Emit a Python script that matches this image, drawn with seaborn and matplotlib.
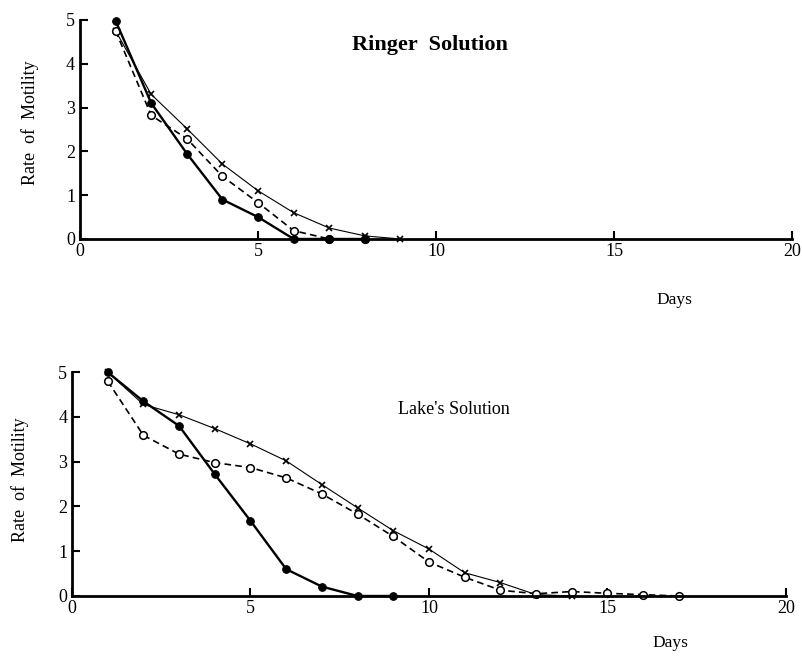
import numpy as np
import pandas as pd
import seaborn as sns
import matplotlib.pyplot as plt

# ---- data ----
ringer_days_filled = [1, 2, 3, 4, 5, 6, 7, 8]
ringer_filled = [4.98, 3.1, 1.95, 0.9, 0.5, 0.0, 0.0, 0.0]
ringer_days_open = [1, 2, 3, 4, 5, 6, 7, 8]
ringer_open = [4.75, 2.82, 2.29, 1.43, 0.83, 0.19, 0.0, 0.0]
ringer_days_cross = [1, 2, 3, 4, 5, 6, 7, 8, 9]
ringer_cross = [4.75, 3.3, 2.52, 1.71, 1.1, 0.6, 0.25, 0.07, 0.0]

lake_days_filled = [1, 2, 3, 4, 5, 6, 7, 8, 9]
lake_filled = [5.0, 4.35, 3.8, 2.72, 1.68, 0.6, 0.21, 0.0, 0.0]
lake_days_open = [1, 2, 3, 4, 5, 6, 7, 8, 9, 10, 11, 12, 13, 14, 15, 16, 17]
lake_open = [4.8, 3.59, 3.17, 2.98, 2.87, 2.64, 2.28, 1.83, 1.33, 0.76, 0.42, 0.13, 0.05, 0.1, 0.06, 0.03, 0.0]
lake_days_cross = [1, 2, 3, 4, 5, 6, 7, 8, 9, 10, 11, 12, 13, 14]
lake_cross = [5.0, 4.28, 4.05, 3.74, 3.4, 3.02, 2.49, 1.97, 1.46, 1.05, 0.52, 0.3, 0.03, 0.0]

x_ticks = [0, 5, 10, 15, 20]
y_ticks = [0, 1, 2, 3, 4, 5]

sns.set_theme(style="ticks")
plt.rcParams["font.family"] = ["Liberation Serif", "DejaVu Serif"]
plt.rcParams["text.color"] = "black"

fig = plt.figure(figsize=(8.03, 6.62), dpi=100)
ax_top = fig.add_axes([0.0996, 0.639, 0.887, 0.331])
ax_bot = fig.add_axes([0.0897, 0.0997, 0.889, 0.338])


def draw_panel(ax, df_f, df_o, df_x):
    sns.lineplot(data=df_x, x="day", y="rate", ax=ax, color="black", linewidth=0.8,
                 marker="x", markersize=5, markeredgewidth=1.2, markeredgecolor="black")
    sns.lineplot(data=df_o, x="day", y="rate", ax=ax, color="black", linewidth=1.2,
                 marker="o", markersize=5.5, markerfacecolor="white",
                 markeredgecolor="black", markeredgewidth=1.1)
    ax.lines[-1].set_dashes([4, 2.5])
    sns.lineplot(data=df_f, x="day", y="rate", ax=ax, color="black", linewidth=1.7,
                 marker="o", markersize=5.5, markerfacecolor="black", markeredgecolor="black")
    ax.set_xlim(0, 20)
    ax.set_ylim(0, 5)
    ax.set_xticks(x_ticks)
    ax.set_yticks(y_ticks)
    ax.tick_params(direction="in", length=6, width=1.5, labelsize=13, colors="black")
    ax.tick_params(axis="x", pad=3)
    for s in ["top", "right"]:
        ax.spines[s].set_visible(False)
    for s in ["left", "bottom"]:
        ax.spines[s].set_linewidth(2)
        ax.spines[s].set_color("black")
    ax.set_ylabel("")
    ax.set_xlabel("")
    ax.set_facecolor("white")
    for line in ax.lines:
        line.set_clip_on(False)


def frame(days, vals):
    return pd.DataFrame({"day": days, "rate": vals})


draw_panel(ax_top, frame(ringer_days_filled, ringer_filled),
           frame(ringer_days_open, ringer_open), frame(ringer_days_cross, ringer_cross))
draw_panel(ax_bot, frame(lake_days_filled, lake_filled),
           frame(lake_days_open, lake_open), frame(lake_days_cross, lake_cross))

fig.text(0.535, 0.932, "Ringer  Solution", fontsize=16, fontweight="bold", ha="center", va="center")
fig.text(0.565, 0.381, "Lake's Solution", fontsize=13, ha="center", va="center")
fig.text(0.84, 0.547, "Days", fontsize=12.5, ha="center", va="center")
fig.text(0.835, 0.028, "Days", fontsize=12.5, ha="center", va="center")
fig.text(0.037, 0.815, "Rate  of  Motility", fontsize=13, rotation=90, ha="center", va="center")
fig.text(0.025, 0.275, "Rate  of  Motility", fontsize=13, rotation=90, ha="center", va="center")

fig.savefig("out.png", dpi=100, facecolor="white")
